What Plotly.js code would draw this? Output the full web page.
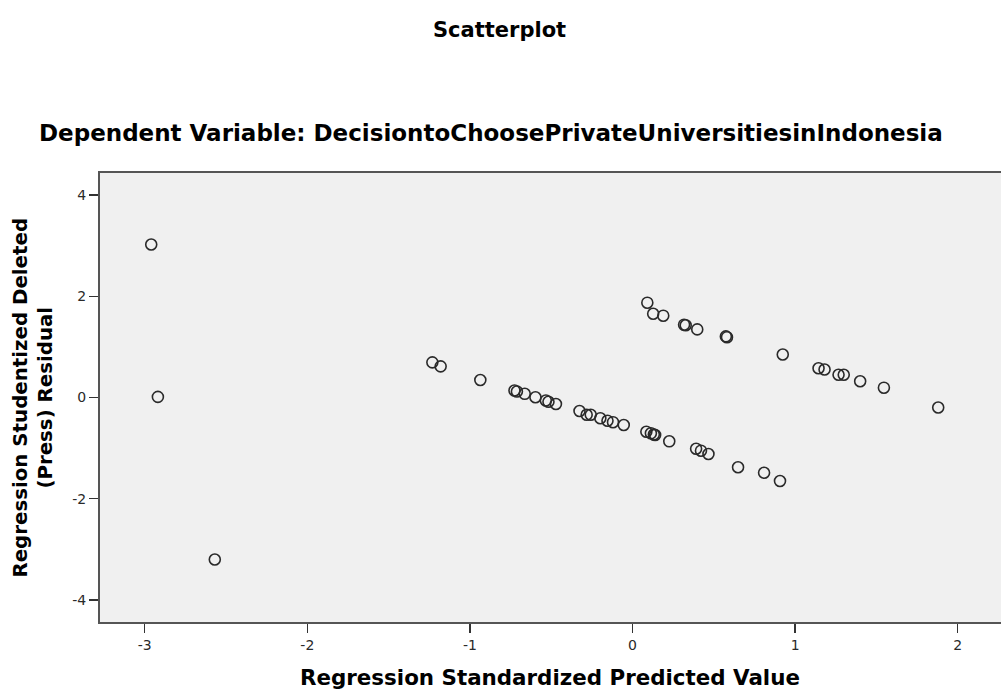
<!DOCTYPE html>
<html>
<head>
<meta charset="utf-8">
<script src="https://cdn.plot.ly/plotly-3.0.1.min.js"></script>
<style>
  html, body { margin: 0; padding: 0; overflow: hidden; background: #ffffff; }
  #chart { width: 1020px; height: 691px; }
</style>
</head>
<body>
<div id="chart"></div>
<script>
// Regression Standardized Predicted Value (x) and Studentized Deleted (Press) Residual (y)
const predicted = [
  -2.960, -2.919, -2.569,
  -1.231, -1.180, -0.936, -0.726, -0.711, -0.663, -0.597, -0.533, -0.517, -0.471,
  -0.326, -0.282, -0.257, -0.198, -0.154, -0.120, -0.054,
  0.085, 0.113, 0.131, 0.139, 0.226, 0.391, 0.421, 0.467, 0.649, 0.809, 0.907,
  0.091, 0.127, 0.189, 0.317, 0.327, 0.398, 0.574, 0.581, 0.924,
  1.144, 1.181, 1.267, 1.299, 1.400, 1.546, 1.880
];
const residual = [
  3.024, 0.012, -3.202,
  0.695, 0.616, 0.346, 0.138, 0.119, 0.073, 0.006, -0.059, -0.085, -0.128,
  -0.267, -0.340, -0.340, -0.411, -0.459, -0.488, -0.543,
  -0.678, -0.708, -0.731, -0.741, -0.866, -1.012, -1.051, -1.117, -1.378, -1.487, -1.650,
  1.874, 1.656, 1.617, 1.439, 1.429, 1.346, 1.208, 1.192, 0.850,
  0.579, 0.553, 0.449, 0.449, 0.322, 0.194, -0.198
];
const xTicks = [-3, -2, -1, 0, 1, 2];
const yTicks = [-4, -2, 0, 2, 4];

const chartTitle = 'Scatterplot';
const subTitle = 'Dependent Variable: DecisiontoChoosePrivateUniversitiesinIndonesia';
const xTitle = 'Regression Standardized Predicted Value';
const yTitle = 'Regression Studentized Deleted<br>(Press) Residual';

const FONT = '"DejaVu Sans", Arial, sans-serif';

const trace = {
  type: 'scatter',
  mode: 'markers',
  x: predicted,
  y: residual,
  marker: {
    symbol: 'circle-open',
    size: 11,
    color: '#2a2a2a',
    line: { width: 1.6, color: '#2a2a2a' }
  },
  hoverinfo: 'x+y'
};

const layout = {
  width: 1020,
  height: 691,
  margin: { l: 100, r: 0, t: 173, b: 69 },
  paper_bgcolor: '#ffffff',
  plot_bgcolor: '#f0f0f0',
  showlegend: false,
  font: { family: FONT, color: '#222222' },
  xaxis: {
    range: [-3.275, 2.383],
    tickvals: xTicks,
    ticktext: xTicks.map(String),
    ticks: 'outside',
    ticklen: 9,
    tickwidth: 1.5,
    tickcolor: '#333333',
    tickfont: { family: FONT, size: 14, color: '#2a2a2a' },
    showline: true,
    linecolor: '#555555',
    linewidth: 2,
    mirror: true,
    showgrid: false,
    zeroline: false
  },
  yaxis: {
    range: [-4.437, 4.437],
    tickvals: yTicks,
    ticktext: yTicks.map(String),
    ticks: 'outside',
    ticklen: 9,
    tickwidth: 1.5,
    tickcolor: '#333333',
    tickfont: { family: FONT, size: 14, color: '#2a2a2a' },
    showline: true,
    linecolor: '#555555',
    linewidth: 2,
    mirror: true,
    showgrid: false,
    zeroline: false
  },
  annotations: [
    { text: '<b>' + chartTitle + '</b>', xref: 'paper', yref: 'paper', x: 0.4337, y: 1.3185,
      xanchor: 'center', yanchor: 'middle', showarrow: false,
      font: { family: FONT, size: 21, color: '#000000' } },
    { text: '<b>' + subTitle + '</b>', xref: 'paper', yref: 'paper', x: 0.425, y: 1.089,
      xanchor: 'center', yanchor: 'middle', showarrow: false,
      font: { family: FONT, size: 23, color: '#000000' } },
    { text: '<b>' + xTitle + '</b>', xref: 'paper', yref: 'paper', x: 0.489, y: -0.1247,
      xanchor: 'center', yanchor: 'middle', showarrow: false,
      font: { family: FONT, size: 21.4, color: '#000000' } },
    { text: '<b>' + yTitle + '</b>', xref: 'paper', yref: 'paper', x: -0.0728, y: 0.5,
      xanchor: 'center', yanchor: 'middle', showarrow: false, textangle: -90,
      font: { family: FONT, size: 19.8, color: '#000000' } }
  ]
};

Plotly.newPlot('chart', [trace], layout, { displayModeBar: false, staticPlot: true });
</script>
</body>
</html>
